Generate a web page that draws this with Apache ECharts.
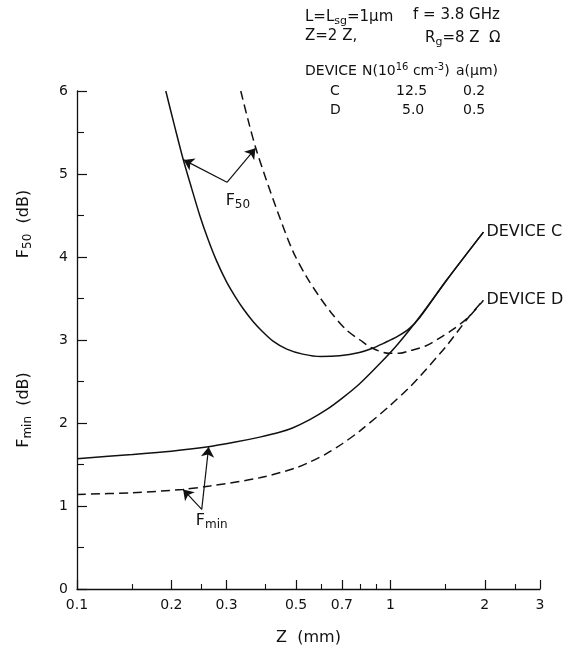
<!DOCTYPE html>
<html><head><meta charset="utf-8">
<script src="https://cdn.jsdelivr.net/npm/echarts@6/dist/echarts.min.js"></script>
<style>html,body{margin:0;padding:0;background:#fff}#c{width:567px;height:647px}</style>
</head><body><div id="c"></div>
<script>
// ---- data ----
const zF50C = [0.192,0.205,0.218,0.232,0.246,0.262,0.279,0.300,0.320,0.340,0.365,0.391,0.421,0.467,0.525,0.60,0.688,0.796,0.877,0.95,1.05,1.15,1.24,1.51,1.98];
const f50C  = [6.00,5.57,5.18,4.83,4.51,4.21,3.95,3.70,3.52,3.37,3.22,3.10,2.99,2.89,2.83,2.80,2.81,2.85,2.90,2.96,3.04,3.14,3.27,3.72,4.30];
const zF50D = [0.333,0.352,0.372,0.40,0.437,0.487,0.54,0.594,0.65,0.724,0.80,0.877,0.99,1.07,1.15,1.30,1.43,1.60,1.78,1.98];
const f50D  = [6.00,5.64,5.31,4.95,4.54,4.08,3.76,3.52,3.32,3.12,3.00,2.90,2.84,2.84,2.87,2.93,3.02,3.14,3.28,3.48];
const zFminC = [0.1,0.15,0.2,0.259,0.32,0.383,0.44,0.487,0.553,0.625,0.702,0.796,0.922,1.05,1.24,1.51,1.98];
const fminC  = [1.57,1.62,1.66,1.71,1.77,1.83,1.885,1.94,2.04,2.16,2.30,2.47,2.71,2.94,3.28,3.72,4.30];
const zFminD = [0.1,0.15,0.218,0.265,0.383,0.5,0.553,0.625,0.702,0.796,0.99,1.15,1.22,1.51,1.78,1.98];
const fminD  = [1.14,1.16,1.20,1.24,1.34,1.46,1.53,1.63,1.75,1.90,2.20,2.43,2.53,2.93,3.28,3.48];

const xMajorTicks = [0.1,0.2,0.3,0.5,0.7,1,2,3];
const xMajorLabels = ['0.1','0.2','0.3','0.5','0.7','1','2','3'];
const xMinorTicks = [0.15,0.25,0.4,0.6,0.8,0.9,1.5,2.5];

// annotation anchors (data coordinates)
const f50Apex = [0.301,4.90];
const f50Tips = [[0.219,5.17],[0.371,5.31]];
const f50LabelAt = [0.326,4.66];
const fminApex = [0.250,0.96];
const fminTips = [[0.263,1.71],[0.218,1.20]];
const fminLabelAt = [0.269,0.81];

// ---- chart ----
const ink = '#111';
const font = '"DejaVu Sans", "Liberation Sans", sans-serif';
const pairs = (xs, ys) => xs.map((x, i) => [x, ys[i]]);
const solid = {color: ink, width: 1.5, type: 'solid'};
const dashed = {color: ink, width: 1.5, type: [9, 5]};
const axisLineStyle = {color: ink, width: 1.3};

const chart = echarts.init(document.getElementById('c'));

const arrowLines = [];
[[f50Apex, f50Tips], [fminApex, fminTips]].forEach(([a, tips]) => {
  tips.forEach(t => arrowLines.push([{coord: a}, {coord: t}]));
});

function lineSeries(name, xs, ys, style, extra) {
  return Object.assign({
    name, type: 'line', data: pairs(xs, ys), xAxisIndex: 0, yAxisIndex: 0,
    showSymbol: false, symbol: 'none', smooth: 0.3,
    lineStyle: style, emphasis: {disabled: true}, silent: true
  }, extra || {});
}

const endLabel = txt => ({
  show: true, formatter: txt, distance: 3, color: ink,
  fontSize: 16, fontFamily: font
});

const option = {
  animation: false,
  backgroundColor: '#fff',
  grid: {left: 77, right: 27, top: 91, bottom: 58, outerBoundsMode: 'none', containLabel: false},
  xAxis: [{
    type: 'log', logBase: 10, min: 0.1, max: 3, position: 'bottom',
    name: 'Z  (mm)', nameLocation: 'middle', nameGap: 41,
    nameTextStyle: {color: ink, fontSize: 16, fontFamily: font},
    axisLine: {show: true, onZero: false, lineStyle: axisLineStyle},
    axisTick: {show: true, inside: true, length: 9, lineStyle: {color: ink, width: 1.2}, customValues: xMajorTicks},
    axisLabel: {show: true, margin: 9, customValues: xMajorTicks, color: ink, fontSize: 14, fontFamily: font,
      formatter: v => { let best = 0; xMajorTicks.forEach((t, i) => { if (Math.abs(Math.log(t / v)) < Math.abs(Math.log(xMajorTicks[best] / v))) best = i; }); return xMajorLabels[best]; }},
    splitLine: {show: false}, minorTick: {show: false}
  }, {
    type: 'log', logBase: 10, min: 0.1, max: 3, position: 'bottom',
    axisLine: {show: false},
    axisTick: {show: true, inside: true, length: 5, lineStyle: {color: ink, width: 1.1}, customValues: xMinorTicks},
    axisLabel: {show: false, customValues: xMinorTicks},
    splitLine: {show: false}
  }],
  yAxis: {
    type: 'value', min: 0, max: 6, interval: 1,
    axisLine: {show: true, onZero: false, lineStyle: axisLineStyle},
    axisTick: {show: true, inside: true, length: 10, lineStyle: {color: ink, width: 1.2}},
    minorTick: {show: true, splitNumber: 2, length: 7, lineStyle: {color: ink, width: 1.1}},
    axisLabel: {margin: 9, color: ink, fontSize: 14, fontFamily: font},
    splitLine: {show: false}, minorSplitLine: {show: false}
  },
  series: [
    lineSeries('F50 C', zF50C, f50C, solid, {
      markLine: {
        silent: true, symbol: ['none', 'arrow'], symbolSize: 10, animation: false,
        lineStyle: {color: ink, width: 1.2, type: 'solid'}, label: {show: false},
        itemStyle: {color: ink},
        emphasis: {disabled: true}, data: arrowLines
      }
    }),
    lineSeries('F50 D', zF50D, f50D, dashed),
    lineSeries('Fmin C', zFminC, fminC, solid, {endLabel: endLabel('DEVICE C')}),
    lineSeries('Fmin D', zFminD, fminD, dashed, {endLabel: endLabel('DEVICE D')})
  ]
};
chart.setOption(option);

const px = p => chart.convertToPixel({xAxisIndex: 0, yAxisIndex: 0}, p);
function mkRich(fs, ff) {
  const sub = Math.round(fs * 0.75);
  return {
    m: {fontSize: fs, fontFamily: ff, color: ink, lineHeight: fs + 2, verticalAlign: 'top'},
    s: {fontSize: sub, fontFamily: ff, color: ink, lineHeight: sub, verticalAlign: 'bottom', padding: [Math.round(fs * 0.62), 0, 0, 0]},
    mb: {fontSize: fs, fontFamily: ff, color: ink, lineHeight: fs + 2, verticalAlign: 'bottom'},
    p: {fontSize: sub - 1, fontFamily: ff, color: ink, lineHeight: sub, verticalAlign: 'top', padding: [0, 0, Math.round(fs * 0.55), 0]}
  };
}
function txt(x, y, text, align, rot, fs, ff) {
  fs = fs || 16; ff = ff || font;
  return {
    type: 'text', x, y, rotation: rot || 0, silent: true,
    style: {text, rich: mkRich(fs, ff), align: align || 'left', textAlign: align || 'left',
      verticalAlign: 'middle', textVerticalAlign: 'middle',
      font: fs + 'px ' + ff, fill: ink}
  };
}
const a1 = px(f50LabelAt), a2 = px(fminLabelAt);
chart.setOption({
  graphic: [
    txt(25, 224, '{m|F}{s|50}{m|  (dB)}', 'center', Math.PI / 2),
    txt(25, 410, '{m|F}{s|min}{m|  (dB)}', 'center', Math.PI / 2),
    txt(a1[0], a1[1], '{m|F}{s|50}', 'center'),
    txt(a2[0], a2[1], '{m|F}{s|min}', 'center'),
    txt(305, 18, '{m|L=L}{s|sg}{m|=1\u03bcm}', 'left', 0, 15),
    txt(413, 16, '{m|f = 3.8 GHz}', 'left', 0, 15),
    txt(305, 37, '{m|Z=2 Z,}', 'left', 0, 15),
    txt(425, 39, '{m|R}{s|g}{m|=8 Z  \u03a9}', 'left', 0, 15),
    txt(305, 72, '{m|DEVICE}', 'left', 0, 14),
    txt(362, 70, '{mb|N(10}{p|16}{mb| cm}{p|-3}{mb|)}', 'left', 0, 14),
    txt(456, 72, '{m|a(\u03bcm)}', 'left', 0, 14),
    txt(330, 92, '{m|C}', 'left', 0, 14),
    txt(396, 92, '{m|12.5}', 'left', 0, 14),
    txt(463, 92, '{m|0.2}', 'left', 0, 14),
    txt(330, 111, '{m|D}', 'left', 0, 14),
    txt(402, 111, '{m|5.0}', 'left', 0, 14),
    txt(463, 111, '{m|0.5}', 'left', 0, 14)
  ]
});
</script>
</body></html>
